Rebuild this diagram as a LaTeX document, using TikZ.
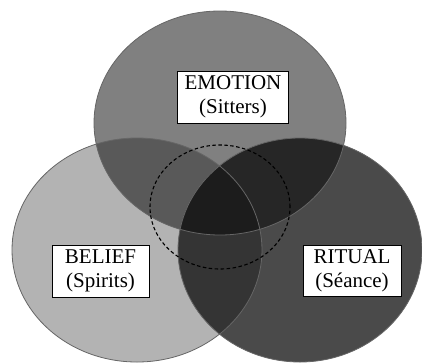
\documentclass[tikz,border=0pt]{standalone}
\usepackage{fontspec}
\setmainfont{Liberation Serif}
\begin{document}
\begin{tikzpicture}[x=1pt,y=-1pt,
  label box/.style={draw=black, line width=1pt, fill=white, align=center,
    inner sep=0pt, font=\fontsize{21}{24}\selectfont},
  ring/.style={draw=black!60, line width=0.8pt}]
\useasboundingbox (0,0) rectangle (422,362);
% the three sets
\def\setE{(220,123) ellipse [x radius=126pt, y radius=112pt]}
\def\setB{(137,250) ellipse [x radius=125pt, y radius=112pt]}
\def\setR{(300,250) ellipse [x radius=122pt, y radius=112pt]}
% single-set fills
\fill[fill={rgb,255:red,179;green,179;blue,179}] \setB;
\fill[fill={rgb,255:red,74;green,74;blue,74}] \setR;
\fill[fill={rgb,255:red,128;green,128;blue,128}] \setE;
% pairwise overlaps
\begin{scope}\clip \setE; \fill[fill={rgb,255:red,89;green,89;blue,89}] \setB; \end{scope}
\begin{scope}\clip \setE; \fill[fill={rgb,255:red,38;green,38;blue,38}] \setR; \end{scope}
\begin{scope}\clip \setB; \fill[fill={rgb,255:red,52;green,52;blue,52}] \setR; \end{scope}
% triple overlap
\begin{scope}\clip \setE; \clip \setB; \fill[fill={rgb,255:red,28;green,28;blue,28}] \setR; \end{scope}
% outlines of the sets
\draw[ring] \setB;
\draw[ring] \setR;
\draw[ring] \setE;
% dashed core
\draw[black, line width=1.1pt, dash pattern=on 3.5pt off 2.5pt]
  (220,207) ellipse [x radius=70pt, y radius=62pt];
% labels
\node[label box, minimum width=111pt, minimum height=52pt] (emotion) at (233,97) {EMOTION\\(Sitters)};
\node[label box, minimum width=97pt, minimum height=52pt] (belief) at (100.5,271) {BELIEF\\(Spirits)};
\node[label box, minimum width=98pt, minimum height=51pt] (ritual) at (352,270.5) {RITUAL\\(Séance)};
\end{tikzpicture}
\end{document}
